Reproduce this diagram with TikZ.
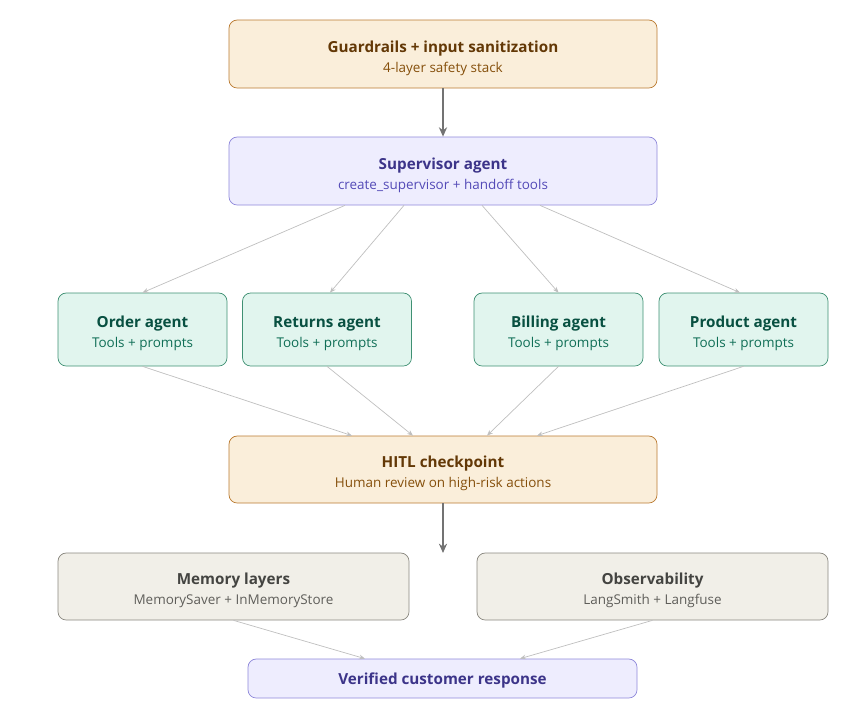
\documentclass[tikz,border=0pt]{standalone}
\usepackage{fontspec}
\setmainfont{Open Sans}
\usepackage{tikz}
\usetikzlibrary{arrows.meta}
\definecolor{orfill}{HTML}{FAEEDA}\definecolor{ordraw}{HTML}{BA7A30}
\definecolor{ortext}{HTML}{633806}\definecolor{orsub}{HTML}{854F0B}
\definecolor{pufill}{HTML}{EEEDFE}\definecolor{pudraw}{HTML}{8F88DA}
\definecolor{putext}{HTML}{3C3489}\definecolor{pusub}{HTML}{534AB7}
\definecolor{grfill}{HTML}{E1F5EE}\definecolor{grdraw}{HTML}{3F9073}
\definecolor{grtext}{HTML}{085041}\definecolor{grsub}{HTML}{0F6E56}
\definecolor{gyfill}{HTML}{F1EFE8}\definecolor{gydraw}{HTML}{8A8880}
\definecolor{gytext}{HTML}{444441}\definecolor{gysub}{HTML}{5F5E5A}
\tikzset{
  box/.style={draw,rounded corners=7pt,line width=0.6pt,align=center,inner sep=0pt},
  orange box/.style={box,fill=orfill,draw=ordraw},
  purple box/.style={box,fill=pufill,draw=pudraw},
  green box/.style={box,fill=grfill,draw=grdraw},
  gray box/.style={box,fill=gyfill,draw=gydraw},
  thin link/.style={draw=black!25,line width=0.6pt,-{Stealth[length=5pt,width=4pt]}},
  main link/.style={draw=black!55,line width=1.2pt,-{Stealth[length=8pt,width=7pt]}},
}
\newcommand{\boxtext}[4]{{\fontsize{13}{16}\selectfont\bfseries\color{#1}\rule{0pt}{17pt}#3}\\[5pt]{\fontsize{11.5}{14}\selectfont\color{#2}#4}}
\begin{document}
\begin{tikzpicture}[x=0.03cm,y=-0.03cm]
\useasboundingbox (0,0) rectangle (864,718);
% top
\node[orange box,minimum width=428*0.03cm,minimum height=68*0.03cm] (guard) at (443,54)
  {\boxtext{ortext}{orsub}{Guardrails + input sanitization}{4-layer safety stack}};
\node[purple box,minimum width=428*0.03cm,minimum height=68*0.03cm] (super) at (443,171)
  {\boxtext{putext}{pusub}{Supervisor agent}{create\_supervisor + handoff tools}};
% agents
\foreach \name/\x/\label in {order/142.5/Order agent,returns/327/Returns agent,billing/558.5/Billing agent,product/743.5/Product agent}
  \node[green box,minimum width=169*0.03cm,minimum height=73*0.03cm] (\name) at (\x,329.5)
    {\boxtext{grtext}{grsub}{\label}{Tools + prompts}};
\node[orange box,minimum width=428*0.03cm,minimum height=67*0.03cm] (hitl) at (443,469.5)
  {\boxtext{ortext}{orsub}{HITL checkpoint}{Human review on high-risk actions}};
% bottom
\node[gray box,minimum width=351*0.03cm,minimum height=67*0.03cm] (memory) at (233.5,586.5)
  {\boxtext{gytext}{gysub}{Memory layers}{MemorySaver + InMemoryStore}};
\node[gray box,minimum width=351*0.03cm,minimum height=67*0.03cm] (observ) at (652.5,586.5)
  {\boxtext{gytext}{gysub}{Observability}{LangSmith + Langfuse}};
\node[purple box,minimum width=389*0.03cm,minimum height=39*0.03cm,font=\fontsize{13}{16}\selectfont\bfseries,text=putext,text depth=0pt] (verified) at (442.5,678.5)
  {Verified customer response};
\coordinate (split) at (443,553);
% connectors
\draw[main link] (guard) -- (super);
\draw[main link] (hitl) -- (split);
\draw[thin link] (super.south -| 345,0) -- (order.north);
\draw[thin link] (super.south -| 404,0) -- (returns.north -| 330,0);
\draw[thin link] (super.south -| 482,0) -- (billing.north);
\draw[thin link] (super.south -| 540,0) -- (product.north -| 740,0);
\draw[thin link] (order.south) -- (hitl.north -| 352,0);
\draw[thin link] (returns.south) -- (hitl.north -| 413,0);
\draw[thin link] (billing.south) -- (hitl.north -| 487,0);
\draw[thin link] (product.south) -- (hitl.north -| 537,0);
\draw[thin link] (memory.south) -- (verified.north -| 365,0);
\draw[thin link] (observ.south) -- (verified.north -| 520,0);
\end{tikzpicture}
\end{document}
